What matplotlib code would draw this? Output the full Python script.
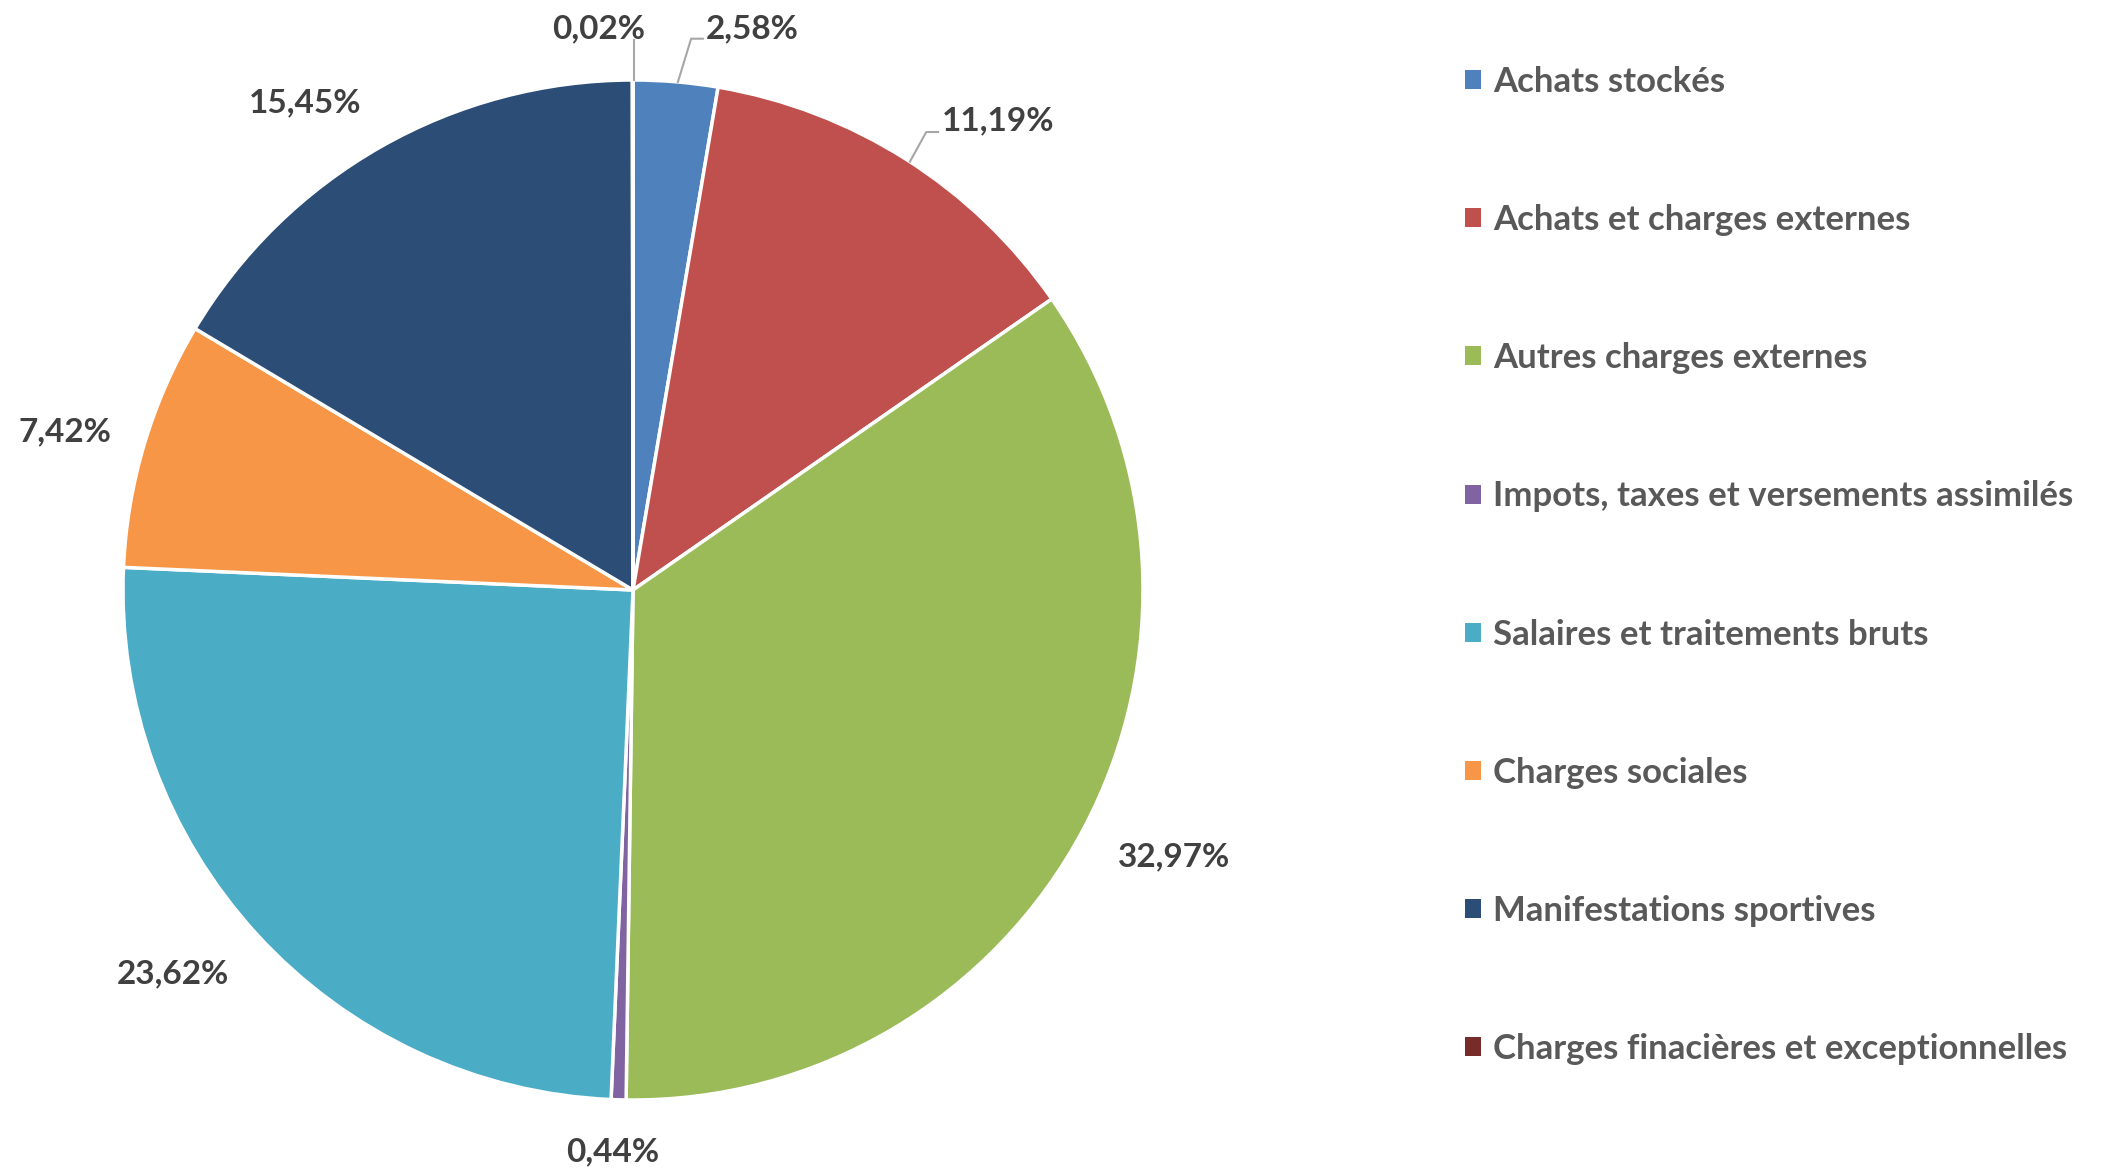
import matplotlib
matplotlib.use("Agg")
import matplotlib.pyplot as plt
from matplotlib.patches import Patch

categories = ["Achats stockés", "Achats et charges externes", "Autres charges externes",
              "Impots, taxes et versements assimilés", "Salaires et traitements bruts",
              "Charges sociales", "Manifestations sportives",
              "Charges finacières et exceptionnelles"]
# wedge shares as drawn in the picture (percent of the full circle)
shares = [2.67, 12.67, 34.89, 0.47, 25.03, 7.86, 16.42, 0.02]
# data labels as printed on the chart
labels = ["2,58%", "11,19%", "32,97%", "0,44%", "23,62%", "7,42%", "15,45%", "0,02%"]

colors = ["#4F81BD", "#C0504D", "#9BBB59", "#8064A2", "#4BACC6", "#F79646", "#2C4D75", "#772C2A"]
# label positions (data coords, pie radius = 1)
label_pos = [(0.233, 1.10), (0.716, 0.920), (1.061, -0.524), (-0.040, -1.101),
             (-0.903, -0.753), (-1.114, 0.310), (-0.643, 0.955), (-0.067, 1.10)]
leaders = {0: [(0.088, 0.996), (0.114, 1.081), (0.137, 1.081)],
           1: [(0.543, 0.840), (0.575, 0.898), (0.598, 0.898)],
           7: [(0.002, 1.0), (0.002, 1.078)]}

W, H = 2108, 1171
fig = plt.figure(figsize=(W / 100, H / 100), dpi=100)
cx, cy, R = 633, 590, 510
ax = fig.add_axes([(cx - R) / W, (H - cy - R) / H, 2 * R / W, 2 * R / H])
wedges, _ = ax.pie(shares, colors=colors, startangle=90, counterclock=False,
                   wedgeprops=dict(edgecolor="white", linewidth=2.5), radius=1)
ax.set_xlim(-1, 1)
ax.set_ylim(-1, 1)
ax.set_aspect("equal")
ax.axis("off")

for i, (lab, (x, y)) in enumerate(zip(labels, label_pos)):
    ax.text(x, y, lab, ha="center", va="center", fontsize=24, fontweight="bold",
            family="Lato", color="#404040", clip_on=False)
for i, pts in leaders.items():
    xs, ys = zip(*pts)
    ax.plot(xs, ys, color="#A6A6A6", lw=1.5, clip_on=False)

handles = [Patch(facecolor=c, edgecolor="none") for c in colors]
leg = fig.legend(handles, categories, loc="upper left",
                 bbox_to_anchor=(1465 / W, 1 - 66 / H), frameon=False,
                 prop=dict(family="Lato", weight="bold", size=25),
                 labelspacing=3.057, handlelength=0.46, handleheight=0.46,
                 handletextpad=0.35, borderpad=0, borderaxespad=0)
for t in leg.get_texts():
    t.set_color("#595959")

fig.savefig("out.png", dpi=100, facecolor="white")
